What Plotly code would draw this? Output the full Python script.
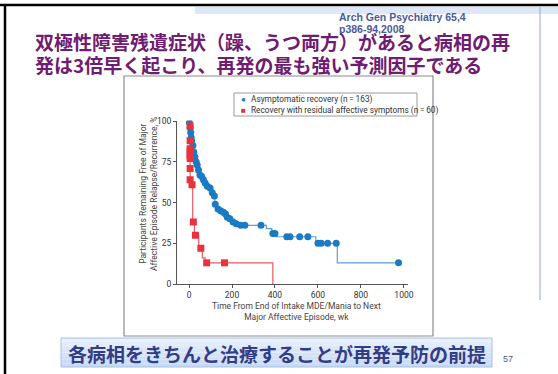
import plotly.graph_objects as go

W, H = 558, 374

# Asymptomatic recovery: Kaplan-Meier step curve and marked observations
asym_step_wk = [0, 1, 4, 7, 9, 11, 16, 20, 25, 31, 36, 42, 49, 57, 64, 72, 82, 95, 105, 115,
                120, 130, 142, 155, 165, 175, 185, 200, 215, 230, 360, 385, 405, 590, 690, 975]
asym_step_pct = [100, 99, 96, 93, 90, 88, 85, 81, 78, 75, 73, 70, 67, 66, 64, 62, 60, 59, 56, 54,
                 49, 46, 45, 44, 43, 41, 40, 38, 37, 36, 34, 31, 29, 25, 13, 13]
asym_mark_wk = [2, 5, 8, 10, 12, 18, 22, 27, 33, 38, 44, 51, 59, 67, 75, 85, 98, 108, 118, 122,
                135, 147, 160, 170, 178, 190, 205, 220, 240, 260, 335, 390, 400, 455, 470, 515,
                553, 600, 615, 645, 685, 975]
asym_mark_pct = [99, 96, 93, 90, 88, 85, 81, 78, 75, 73, 70, 67, 66, 64, 62, 60, 59, 56, 54, 49,
                 46, 45, 44, 43, 41, 40, 38, 37, 36, 36, 36, 31, 31, 29, 29, 29,
                 29, 25, 25, 25, 25, 13]

# Recovery with residual affective symptoms
resid_step_wk = [0, 5, 12, 17, 25, 45, 62, 75, 390]
resid_step_pct = [100, 64, 61, 38, 30, 22, 16, 13, 0]
resid_mark_wk = [5, 5, 5, 5, 5, 5, 5, 5, 14, 20, 30, 55, 82, 165]
resid_mark_pct = [97, 88, 83, 81, 79, 77, 71, 64, 61, 38, 30, 22, 13, 13]

x_ticks = [0, 200, 400, 600, 800, 1000]
y_ticks = [0, 25, 50, 75, 100]

legend_labels = ["Asymptomatic recovery (n\u2009=\u2009163)",
                 "Recovery with residual affective symptoms (n\u2009=\u200960)"]

BLUE = "#1b7ac2"
BLUE_LINE = "#5b9fd6"
RED = "#e8333f"
RED_LINE = "#ec5a63"
NARROW = "Roboto, Liberation Sans, sans-serif"
LATIN = "Liberation Sans, Arial, sans-serif"
CJK = "Noto Sans CJK JP, sans-serif"


def px(x):
    return x / W


def py(y):
    return 1 - y / H


fig = go.Figure()

fig.add_trace(go.Scatter(x=asym_step_wk, y=asym_step_pct, mode="lines",
                         line=dict(shape="hv", color=BLUE_LINE, width=1.2),
                         showlegend=False, hoverinfo="skip"))
fig.add_trace(go.Scatter(x=resid_step_wk, y=resid_step_pct, mode="lines",
                         line=dict(shape="hv", color=RED_LINE, width=1.2),
                         showlegend=False, hoverinfo="skip"))
fig.add_trace(go.Scatter(x=asym_mark_wk, y=asym_mark_pct, mode="markers",
                         name=legend_labels[0], showlegend=False,
                         marker=dict(symbol="circle", size=7, color=BLUE)))
fig.add_trace(go.Scatter(x=resid_mark_wk, y=resid_mark_pct, mode="markers",
                         name=legend_labels[1], showlegend=False,
                         marker=dict(symbol="square", size=7, color=RED)))

P = dict(xref="paper", yref="paper")
shapes = []
# slide frame
shapes.append(dict(type="line", **P, x0=px(0), x1=px(W), y0=py(5), y1=py(5),
                   line=dict(color="black", width=2.5)))
shapes.append(dict(type="line", **P, x0=px(5), x1=px(5), y0=py(4), y1=py(H),
                   line=dict(color="black", width=2.5)))
shapes.append(dict(type="rect", **P, x0=px(195), x1=px(W), y0=py(7), y1=py(14),
                   fillcolor="#dde7f7", line=dict(width=0)))
shapes.append(dict(type="line", **P, x0=px(540), x1=px(540), y0=py(7), y1=py(300),
                   line=dict(color="#8aa6e8", width=1)))
# chart panel
shapes.append(dict(type="rect", **P, x0=px(124), x1=px(433), y0=py(76), y1=py(336),
                   fillcolor="white", line=dict(color="#8c8c8c", width=1.2), layer="below"))
# legend box
shapes.append(dict(type="rect", **P, x0=px(234), x1=px(417), y0=py(93), y1=py(116),
                   fillcolor="white", line=dict(color="#9a9a9a", width=1)))
# bottom banner with soft vertical gradient
top, bot = 338, 367
n = 8
for i in range(n):
    t = i / (n - 1)
    r = int(0xe8 + (0xc8 - 0xe8) * t)
    g = int(0xf0 + (0xda - 0xf0) * t)
    b = int(0xfc + (0xf4 - 0xfc) * t)
    y0 = top + (bot - top) * i / n
    y1 = top + (bot - top) * (i + 1) / n
    shapes.append(dict(type="rect", **P, x0=px(61), x1=px(492),
                       y0=py(y0), y1=py(y1), fillcolor=f"rgb({r},{g},{b})", line=dict(width=0)))
shapes.append(dict(type="rect", **P, x0=px(61), x1=px(492), y0=py(top), y1=py(bot),
                   fillcolor="rgba(0,0,0,0)", line=dict(color="#a8bfe6", width=1)))


def note(text, x, y, size, color, family, xanchor="left", **kw):
    return dict(text=text, x=px(x), y=py(y), xref="paper", yref="paper",
                xanchor=xanchor, yanchor="middle", showarrow=False,
                font=dict(family=family, size=size, color=color), **kw)


annotations = [
    note("<b>Arch Gen Psychiatry 65,4</b>", 337, 17, 10.5, "#4b5b98", LATIN),
    note("<b>p386-94,2008</b>", 337, 29, 10.5, "#4b5b98", LATIN),
    note("<b>双極性障害残遺症状（躁、うつ両方）があると病相の再</b>", 33, 41, 19, "#6f1c72", CJK),
    note("<b>発は3倍早く起こり、再発の最も強い予測因子である</b>", 33, 64, 19, "#6f1c72", CJK),
    note("<b>各病相をきちんと治療することが再発予防の前提</b>", 277, 353, 19, "#323d86", CJK,
         xanchor="center"),
    note("57", 508, 359, 9, "#4b5b98", LATIN, xanchor="center"),
    note("Time From End of Intake MDE/Mania to Next<br>Major Affective Episode, wk", 296, 311,
         8.5, "#444", NARROW, xanchor="center"),
    note("Participants Remaining Free of Major<br>Affective Episode Relapse/Recurrence, %", 148, 194,
         8.5, "#444", NARROW, xanchor="center", textangle=-90),
    # legend entries
    note("\u25CF", 239, 99.5, 8, BLUE, LATIN),
    note("\u25A0", 239, 110, 8, RED, LATIN),
    note(legend_labels[0], 249, 99.5, 8.3, "#333", NARROW),
    note(legend_labels[1], 249, 110, 8.3, "#333", NARROW),
]

fig.update_layout(
    width=W, height=H,
    margin=dict(l=0, r=0, t=0, b=0, pad=0),
    autosize=False,
    paper_bgcolor="white",
    plot_bgcolor="rgba(0,0,0,0)",
    shapes=shapes,
    annotations=annotations,
    showlegend=False,
    xaxis=dict(domain=[px(177), px(408)], range=[-56, 1019], tickvals=x_ticks,
               automargin=False,
               showgrid=False, zeroline=False, showline=True, linecolor="#555", linewidth=1,
               ticks="outside", ticklen=3, tickcolor="#555",
               tickfont=dict(family=NARROW, size=8.5, color="#333")),
    yaxis=dict(domain=[py(284), py(120.5)], range=[0, 100.4], tickvals=y_ticks,
               automargin=False,
               showgrid=False, zeroline=False, showline=True, linecolor="#555", linewidth=1,
               ticks="outside", ticklen=3, tickcolor="#555",
               tickfont=dict(family=NARROW, size=8.5, color="#333")),
)

fig.write_html("out.html")
